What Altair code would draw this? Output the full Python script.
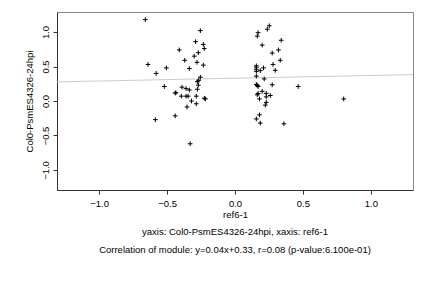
import altair as alt
import pandas as pd

xs = [-0.66, -0.255, -0.29, -0.233, -0.226, -0.41, -0.27, -0.30, -0.37, -0.28,
      -0.64, -0.233, -0.505, -0.336, -0.58, -0.255, -0.267, -0.277, -0.27, -0.52,
      -0.39, -0.36, -0.336, -0.277, -0.44, -0.435, -0.395, -0.36, -0.345, -0.285,
      -0.226, -0.218, -0.32, -0.285, -0.353, -0.44, -0.586, -0.33,
      0.252, 0.238, 0.17, 0.164, 0.34, 0.20, 0.32, 0.274, 0.333, 0.28,
      0.157, 0.157, 0.157, 0.157, 0.21, 0.186, 0.296, 0.157, 0.215, 0.157,
      0.164, 0.17, 0.274, 0.465, 0.20, 0.17, 0.164, 0.23, 0.26, 0.23,
      0.18, 0.80, 0.23, 0.223, 0.18, 0.157, 0.186, 0.36]
ys = [1.18, 1.02, 0.86, 0.82, 0.76, 0.74, 0.70, 0.65, 0.59, 0.56,
      0.53, 0.52, 0.48, 0.47, 0.40, 0.345, 0.30, 0.28, 0.23, 0.21,
      0.20, 0.18, 0.16, 0.17, 0.115, 0.12, 0.07, 0.07, 0.07, 0.07,
      0.04, 0.03, 0.00, -0.04, -0.086, -0.215, -0.27, -0.62,
      1.09, 1.04, 0.99, 0.94, 0.88, 0.81, 0.74, 0.695, 0.59, 0.53,
      0.51, 0.49, 0.46, 0.43, 0.48, 0.44, 0.445, 0.36, 0.32, 0.24,
      0.225, 0.21, 0.235, 0.21, 0.14, 0.11, 0.09, 0.11, 0.08, 0.06,
      0.03, 0.03, -0.02, -0.06, -0.20, -0.26, -0.32, -0.33]

slope = 0.04
intercept = 0.33
x_dom = [-1.31, 1.31]
y_dom = [-1.29, 1.29]
ticks = [-1.0, -0.5, 0.0, 0.5, 1.0]
x_title = "ref6-1"
y_title = "Col0-PsmES4326-24hpi"
line1 = "yaxis: Col0-PsmES4326-24hpi, xaxis: ref6-1"
line2 = "Correlation of module: y=0.04x+0.33, r=0.08 (p-value:6.100e-01)"

FONT = "Liberation Sans"
FS = 9.5
W, H = 356, 178

pts = pd.DataFrame({"x": xs, "y": ys})
fit = pd.DataFrame({"x": x_dom, "y": [slope * v + intercept for v in x_dom]})

xscale = alt.Scale(domain=x_dom, nice=False, zero=False)
yscale = alt.Scale(domain=y_dom, nice=False, zero=False)

xaxis = alt.Axis(values=ticks, format=".1f", title=x_title, grid=False,
                 tickSize=4, tickColor="#333", domainColor="#333",
                 labelFont=FONT, labelFontSize=FS, labelColor="#000",
                 labelPadding=4, titleFont=FONT, titleFontSize=FS,
                 titleFontWeight="normal", titleColor="#000", titlePadding=2)
yaxis = alt.Axis(values=ticks, format=".1f", title=y_title, grid=False,
                 tickSize=4, tickColor="#333", domainColor="#333",
                 labelFont=FONT, labelFontSize=FS, labelColor="#000",
                 labelAngle=270, labelAlign="center", labelBaseline="bottom",
                 labelPadding=3,
                 titleFont=FONT, titleFontSize=FS, titleFontWeight="normal",
                 titleColor="#000", titlePadding=6)

line = alt.Chart(fit).mark_line(color="#cccccc", strokeWidth=1, clip=True).encode(
    x=alt.X("x:Q", scale=xscale, axis=xaxis),
    y=alt.Y("y:Q", scale=yscale, axis=yaxis),
)

points = alt.Chart(pts).mark_point(
    shape="M-1,0L1,0M0,-1L0,1", filled=False, color="#000", strokeWidth=1,
    size=22, opacity=1,
).encode(
    x=alt.X("x:Q", scale=xscale),
    y=alt.Y("y:Q", scale=yscale),
)

texts = pd.DataFrame({"t": [line1, line2], "yy": [220, 238]})
caption = alt.Chart(texts).mark_text(
    font=FONT, fontSize=FS, color="#000", align="center", baseline="middle"
).encode(
    text="t:N",
    x=alt.value(W / 2),
    y=alt.Y("yy:Q", scale=None),
)

chart = alt.layer(line, points, caption).properties(
    width=W, height=H,
    autosize=alt.AutoSizeParams(type="none"),
    padding={"left": 57, "top": 12, "right": 19, "bottom": 98},
    background="white",
).configure_view(stroke="#888888", strokeWidth=1)

chart.save("out.html", embed_options={"renderer": "svg", "actions": False})
